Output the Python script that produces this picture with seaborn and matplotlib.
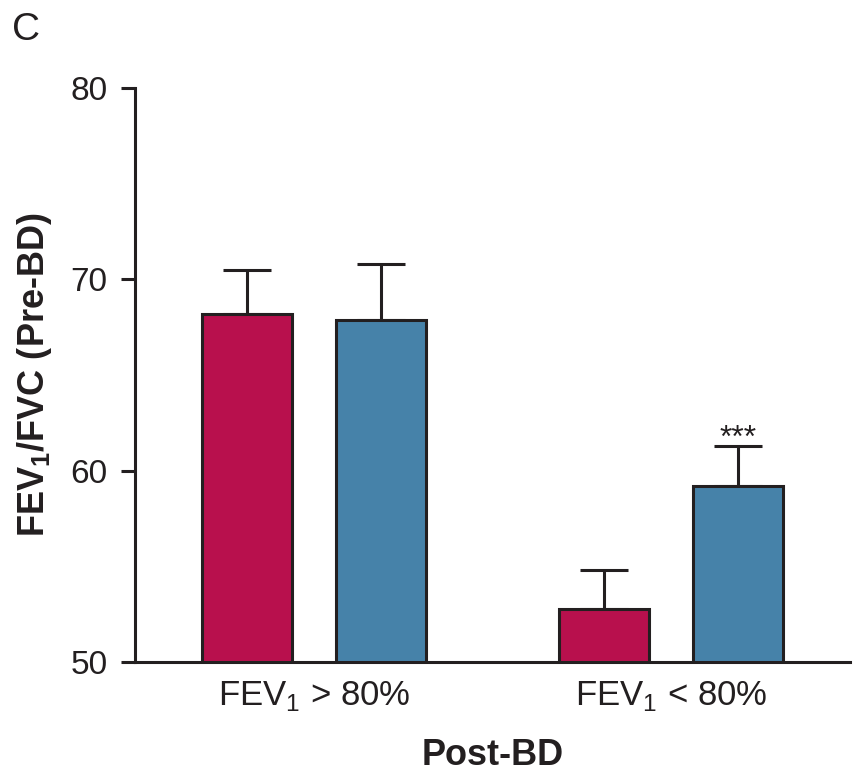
import matplotlib
matplotlib.use("Agg")
import matplotlib.pyplot as plt
import seaborn as sns
import pandas as pd
import numpy as np

# Group means and SEM of pre-BD FEV1/FVC, split by post-BD FEV1
groups = ["FEV$_\\mathregular{1}$ > 80%", "FEV$_\\mathregular{1}$ < 80%"]
cohorts = ["A", "B"]
mean_a = [68.2, 52.8]
mean_b = [67.9, 59.2]
sem_a = [2.3, 2.0]
sem_b = [2.9, 2.1]
significance = ["", "***"]

palette = {"A": "#B8104D", "B": "#4682A9"}
ink = "#231F20"

sns.set_theme(style="white")
plt.rcParams["font.family"] = ["Liberation Sans", "DejaVu Sans"]
plt.rcParams["mathtext.fontset"] = "custom"
plt.rcParams["mathtext.rm"] = "Liberation Sans"
plt.rcParams["mathtext.bf"] = "Liberation Sans:bold"

df = pd.DataFrame({
    "group": groups * 2,
    "cohort": [cohorts[0]] * 2 + [cohorts[1]] * 2,
    "value": mean_a + mean_b,
    "sem": sem_a + sem_b,
})

fig = plt.figure(figsize=(8.55, 7.79), dpi=100)
ax = fig.add_axes([0.158, 0.150, 0.836, 0.737])

sns.barplot(data=df, x="group", y="value", hue="cohort", order=groups,
            hue_order=cohorts, palette=palette, saturation=1, width=0.75,
            gap=0.33, errorbar=None, edgecolor=ink, linewidth=2.2,
            legend=False, ax=ax, zorder=3)

# Upper-only error bars and significance marks at each bar centre
for patch, (_, row) in zip(ax.patches, df.sort_values(["cohort"]).iterrows()):
    xc = patch.get_x() + patch.get_width() / 2
    top = patch.get_height() + patch.get_y()
    ax.errorbar(xc, top, yerr=[[0], [row["sem"]]], fmt="none", ecolor=ink,
                elinewidth=2.2, capsize=17.5, capthick=2.2, zorder=2)
    mark = significance[groups.index(row["group"])] if row["cohort"] == "B" else ""
    if mark:
        ax.text(xc, top + row["sem"] - 0.4, mark, ha="center", va="bottom",
                fontsize=23, color=ink)

ax.set_ylim(50, 80)
ax.set_xlim(-0.5, 1.5)
ax.set_yticks([50, 60, 70, 80])
ax.set_ylabel("FEV$_\\mathbf{1}$/FVC (Pre-BD)", fontsize=26, fontweight="bold",
              color=ink, labelpad=12)
ax.set_xlabel("Post-BD", fontsize=26, fontweight="bold", color=ink, labelpad=18)

for side in ["top", "right"]:
    ax.spines[side].set_visible(False)
for side in ["left", "bottom"]:
    ax.spines[side].set_linewidth(2.2)
    ax.spines[side].set_color(ink)
    ax.spines[side].set_zorder(4)

ax.tick_params(axis="y", length=10, width=2.2, color=ink, labelsize=24,
               labelcolor=ink, pad=10, left=True)
ax.tick_params(axis="x", length=0, labelsize=25, labelcolor=ink, pad=12)

fig.text(0.014, 0.985, "C", fontsize=28, color=ink, va="top", ha="left")

fig.savefig("out.png", dpi=100)
